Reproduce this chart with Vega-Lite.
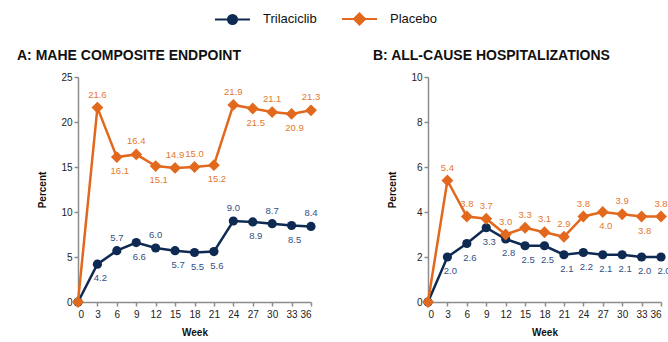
{
  "$schema": "https://vega.github.io/schema/vega-lite/v6.json",
  "padding": {"left": 17, "top": 0, "right": 0, "bottom": 0},
  "bounds": "flush",
  "spacing": 117,
  "config": {
    "view": {"stroke": null},
    "font": "Liberation Sans",
    "axis": {
      "grid": false,
      "domainColor": "#8c8c8c",
      "domainWidth": 1.5,
      "tickColor": "#8c8c8c",
      "tickWidth": 1.5,
      "tickSize": 4,
      "labelColor": "#222222",
      "labelFontSize": 10,
      "labelFont": "Liberation Sans Narrow, Liberation Sans",
      "titleFontSize": 10,
      "titleFontWeight": "bold",
      "titleColor": "#111111",
      "titleFont": "Liberation Sans Narrow, Liberation Sans"
    },
    "title": {"font": "Liberation Sans", "fontSize": 14, "fontWeight": "bold", "color": "#111111", "anchor": "start", "frame": "group"}
  },
  "datasets": {
    "mahe": [
      {"week": 0, "group": "Trilaciclib", "value": 0},
      {"week": 3, "group": "Trilaciclib", "value": 4.2},
      {"week": 6, "group": "Trilaciclib", "value": 5.7},
      {"week": 9, "group": "Trilaciclib", "value": 6.6},
      {"week": 12, "group": "Trilaciclib", "value": 6.0},
      {"week": 15, "group": "Trilaciclib", "value": 5.7},
      {"week": 18, "group": "Trilaciclib", "value": 5.5},
      {"week": 21, "group": "Trilaciclib", "value": 5.6},
      {"week": 24, "group": "Trilaciclib", "value": 9.0},
      {"week": 27, "group": "Trilaciclib", "value": 8.9},
      {"week": 30, "group": "Trilaciclib", "value": 8.7},
      {"week": 33, "group": "Trilaciclib", "value": 8.5},
      {"week": 36, "group": "Trilaciclib", "value": 8.4},
      {"week": 0, "group": "Placebo", "value": 0},
      {"week": 3, "group": "Placebo", "value": 21.6},
      {"week": 6, "group": "Placebo", "value": 16.1},
      {"week": 9, "group": "Placebo", "value": 16.4},
      {"week": 12, "group": "Placebo", "value": 15.1},
      {"week": 15, "group": "Placebo", "value": 14.9},
      {"week": 18, "group": "Placebo", "value": 15.0},
      {"week": 21, "group": "Placebo", "value": 15.2},
      {"week": 24, "group": "Placebo", "value": 21.9},
      {"week": 27, "group": "Placebo", "value": 21.5},
      {"week": 30, "group": "Placebo", "value": 21.1},
      {"week": 33, "group": "Placebo", "value": 20.9},
      {"week": 36, "group": "Placebo", "value": 21.3}
    ],
    "hosp": [
      {"week": 0, "group": "Trilaciclib", "value": 0},
      {"week": 3, "group": "Trilaciclib", "value": 2.0},
      {"week": 6, "group": "Trilaciclib", "value": 2.6},
      {"week": 9, "group": "Trilaciclib", "value": 3.3},
      {"week": 12, "group": "Trilaciclib", "value": 2.8},
      {"week": 15, "group": "Trilaciclib", "value": 2.5},
      {"week": 18, "group": "Trilaciclib", "value": 2.5},
      {"week": 21, "group": "Trilaciclib", "value": 2.1},
      {"week": 24, "group": "Trilaciclib", "value": 2.2},
      {"week": 27, "group": "Trilaciclib", "value": 2.1},
      {"week": 30, "group": "Trilaciclib", "value": 2.1},
      {"week": 33, "group": "Trilaciclib", "value": 2.0},
      {"week": 36, "group": "Trilaciclib", "value": 2.0},
      {"week": 0, "group": "Placebo", "value": 0},
      {"week": 3, "group": "Placebo", "value": 5.4},
      {"week": 6, "group": "Placebo", "value": 3.8},
      {"week": 9, "group": "Placebo", "value": 3.7},
      {"week": 12, "group": "Placebo", "value": 3.0},
      {"week": 15, "group": "Placebo", "value": 3.3},
      {"week": 18, "group": "Placebo", "value": 3.1},
      {"week": 21, "group": "Placebo", "value": 2.9},
      {"week": 24, "group": "Placebo", "value": 3.8},
      {"week": 27, "group": "Placebo", "value": 4.0},
      {"week": 30, "group": "Placebo", "value": 3.9},
      {"week": 33, "group": "Placebo", "value": 3.8},
      {"week": 36, "group": "Placebo", "value": 3.8}
    ]
  },
  "hconcat": [
    {
      "width": 233,
      "height": 225,
      "data": {"name": "mahe"},
      "title": {"text": "A: MAHE COMPOSITE ENDPOINT", "dx": -61, "offset": 9},
      "encoding": {
        "x": {"field": "week", "type": "quantitative", "scale": {"domain": [0, 36], "nice": false}, "axis": {"values": [0,3,6,9,12,15,18,21,24,27,30,33,36], "title": "Week", "titlePadding": 8, "labelPadding": 3}},
        "y": {"field": "value", "type": "quantitative", "scale": {"domain": [0, 25], "nice": false}, "axis": {"values": [0,5,10,15,20,25], "title": "Percent", "titlePadding": 13}}
      },
      "layer": [
        {
          "mark": {"type": "line", "strokeWidth": 2.5},
          "encoding": {
            "color": {
              "field": "group", "type": "nominal",
              "scale": {"domain": ["Trilaciclib", "Placebo"], "range": ["#0f2a52", "#e2681d"]},
              "legend": {
                "orient": "none", "legendX": 136, "legendY": -77, "direction": "horizontal", "title": null,
                "labelFontSize": 13, "labelColor": "#111111", "labelFont": "Liberation Sans", "columnPadding": 21, "labelOffset": 12,
                "symbolSize": 1225,
                "encode": {
                  "symbols": {
                    "update": {
                      "shape": {"signal": "datum.value === 'Trilaciclib' ? 'M-1,0L1,0M-0.26,0A0.26,0.26,0,1,0,0.26,0A0.26,0.26,0,1,0,-0.26,0Z' : 'M-1,0L1,0M0,-0.32L0.32,0L0,0.32L-0.32,0Z'"},
                      "fill": {"signal": "datum.value === 'Trilaciclib' ? '#0f2a52' : '#e2681d'"},
                      "stroke": {"signal": "datum.value === 'Trilaciclib' ? '#0f2a52' : '#e2681d'"},
                      "strokeWidth": {"value": 2},
                      "opacity": {"value": 1},
                      "fillOpacity": {"value": 1}
                    }
                  }
                }
              }
            }
          }
        },
        {
          "transform": [{"filter": "datum.group === 'Trilaciclib'"}],
          "mark": {"type": "point", "filled": true, "opacity": 1, "shape": "circle", "size": 85},
          "encoding": {"color": {"field": "group", "type": "nominal"}}
        },
        {
          "transform": [{"filter": "datum.group === 'Placebo'"}],
          "mark": {"type": "point", "filled": true, "opacity": 1, "shape": "diamond", "size": 140},
          "encoding": {"color": {"field": "group", "type": "nominal"}}
        },
        {
          "transform": [{"filter": "datum.week > 0 && ((datum.group === 'Trilaciclib' && indexof([6,12,24,30,36], datum.week) >= 0) || (datum.group === 'Placebo' && indexof([3,9,15,18,24,30,36], datum.week) >= 0))"}],
          "mark": {"type": "text", "dy": -13, "fontSize": 9.5, "font": "Liberation Sans Narrow, Liberation Sans"},
          "encoding": {
            "text": {"field": "value", "type": "quantitative", "format": ".1f"},
            "color": {"condition": {"test": "datum.group === 'Placebo'", "value": "#e2792f"}, "value": "#34507f"}
          }
        },
        {
          "transform": [{"filter": "datum.week > 0 && !((datum.group === 'Trilaciclib' && indexof([6,12,24,30,36], datum.week) >= 0) || (datum.group === 'Placebo' && indexof([3,9,15,18,24,30,36], datum.week) >= 0))"}],
          "mark": {"type": "text", "dy": 14, "dx": 3, "fontSize": 9.5, "font": "Liberation Sans Narrow, Liberation Sans"},
          "encoding": {
            "text": {"field": "value", "type": "quantitative", "format": ".1f"},
            "color": {"condition": {"test": "datum.group === 'Placebo'", "value": "#e2792f"}, "value": "#34507f"}
          }
        }
      ]
    },
    {
      "width": 233,
      "height": 225,
      "data": {"name": "hosp"},
      "title": {"text": "B: ALL-CAUSE HOSPITALIZATIONS", "dx": -55, "offset": 9},
      "encoding": {
        "x": {"field": "week", "type": "quantitative", "scale": {"domain": [0, 36], "nice": false}, "axis": {"values": [0,3,6,9,12,15,18,21,24,27,30,33,36], "title": "Week", "titlePadding": 8, "labelPadding": 3}},
        "y": {"field": "value", "type": "quantitative", "scale": {"domain": [0, 10], "nice": false}, "axis": {"values": [0,2,4,6,8,10], "title": "Percent", "titlePadding": 13}}
      },
      "layer": [
        {
          "mark": {"type": "line", "strokeWidth": 2.5},
          "encoding": {"color": {"field": "group", "type": "nominal"}}
        },
        {
          "transform": [{"filter": "datum.group === 'Trilaciclib'"}],
          "mark": {"type": "point", "filled": true, "opacity": 1, "shape": "circle", "size": 85},
          "encoding": {"color": {"field": "group", "type": "nominal"}}
        },
        {
          "transform": [{"filter": "datum.group === 'Placebo'"}],
          "mark": {"type": "point", "filled": true, "opacity": 1, "shape": "diamond", "size": 140},
          "encoding": {"color": {"field": "group", "type": "nominal"}}
        },
        {
          "transform": [{"filter": "datum.week > 0 && datum.group === 'Placebo' && indexof([27,33], datum.week) < 0"}],
          "mark": {"type": "text", "dy": -13, "fontSize": 9.5, "font": "Liberation Sans Narrow, Liberation Sans"},
          "encoding": {
            "text": {"field": "value", "type": "quantitative", "format": ".1f"},
            "color": {"condition": {"test": "datum.group === 'Placebo'", "value": "#e2792f"}, "value": "#34507f"}
          }
        },
        {
          "transform": [{"filter": "datum.week > 0 && (datum.group === 'Trilaciclib' || indexof([27,33], datum.week) >= 0)"}],
          "mark": {"type": "text", "dy": 14, "dx": 3, "fontSize": 9.5, "font": "Liberation Sans Narrow, Liberation Sans"},
          "encoding": {
            "text": {"field": "value", "type": "quantitative", "format": ".1f"},
            "color": {"condition": {"test": "datum.group === 'Placebo'", "value": "#e2792f"}, "value": "#34507f"}
          }
        }
      ]
    }
  ]
}
